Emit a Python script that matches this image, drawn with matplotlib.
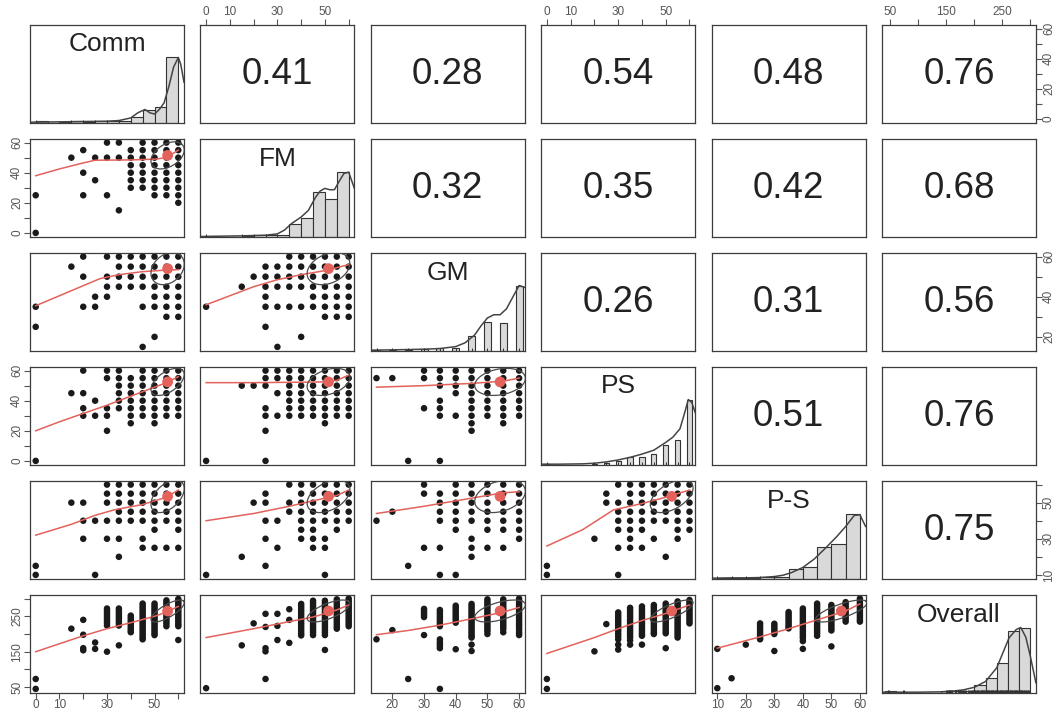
import numpy as np
import matplotlib
matplotlib.use("Agg")
import matplotlib.pyplot as plt

plt.rcParams["font.family"] = ["Liberation Sans", "DejaVu Sans"]

# ---------------------------------------------------------------- variables
variables = ["Comm", "FM", "GM", "PS", "P-S", "Overall"]
var_min = [0, 0, 15, 0, 10, 45]
var_max = [60, 60, 60, 60, 60, 300]
var_mean = [55.5, 51.5, 54.0, 52.5, 53.5, 265.0]
var_sd = [7.0, 9.0, 8.0, 9.0, 9.0, 31.0]

# upper-triangle correlations, one list per row
corr_comm = [0.41, 0.28, 0.54, 0.48, 0.76]
corr_fm = [0.32, 0.35, 0.42, 0.68]
corr_gm = [0.26, 0.31, 0.56]
corr_ps = [0.51, 0.76]
corr_ps2 = [0.75]

# axis ticks and the ticks that carry a label
ticks_by_var = [[0, 10, 20, 30, 40, 50, 60], [0, 10, 20, 30, 40, 50, 60],
                [20, 30, 40, 50, 60], [0, 10, 20, 30, 40, 50, 60],
                [10, 20, 30, 40, 50, 60], [50, 100, 150, 200, 250, 300]]
xlabels_by_var = [[0, 10, 30, 50], [0, 10, 30, 50], [20, 30, 40, 50, 60],
                  [0, 10, 30, 50], [10, 20, 30, 40, 50, 60], [50, 150, 250]]
ylabels_by_var = [[0, 20, 40, 60], [0, 20, 40, 60], [20, 40, 60],
                  [0, 20, 40, 60], [10, 30, 50], [50, 150, 250]]

# ---------------------------------------------------------------- histograms
comm_breaks = [0, 5, 10, 15, 20, 25, 30, 35, 40, 45, 50, 55, 60]
comm_heights = [0.02, 0.0, 0.01, 0.02, 0.01, 0.02, 0.02, 0.03, 0.09, 0.19, 0.24, 1.0]
fm_breaks = [0, 5, 10, 15, 20, 25, 30, 35, 40, 45, 50, 55, 60]
fm_heights = [0.01, 0.0, 0.0, 0.01, 0.02, 0.02, 0.03, 0.2, 0.28, 0.69, 0.58, 1.0]
gm_values = [15, 20, 25, 30, 35, 40, 45, 50, 55, 60]
gm_heights = [0.01, 0.01, 0.01, 0.02, 0.04, 0.04, 0.22, 0.44, 0.42, 1.0]
ps_values = [0, 20, 25, 30, 35, 40, 45, 50, 55, 60]
ps_heights = [0.01, 0.01, 0.02, 0.05, 0.11, 0.11, 0.16, 0.30, 0.38, 1.0]
ps2_breaks = [10, 15, 20, 25, 30, 35, 40, 45, 50, 55, 60]
ps2_heights = [0.01, 0.01, 0.01, 0.02, 0.02, 0.15, 0.18, 0.48, 0.53, 1.0]
overall_breaks = [40, 60, 80, 100, 120, 140, 160, 180, 200, 220, 240, 260, 280, 300]
overall_heights = [0.02, 0.01, 0.0, 0.0, 0.0, 0.02, 0.02, 0.03, 0.12, 0.23, 0.45, 0.95, 1.0]

# density curves (scaled to a peak of 1)
comm_dens_x = [-2.4, 10, 20, 30, 35, 40, 43, 46, 48, 50, 52, 54, 56, 58, 60, 61, 62.4]
comm_dens_y = [0.005, 0.01, 0.015, 0.02, 0.03, 0.07, 0.15, 0.2, 0.15, 0.13, 0.2, 0.3, 0.55, 0.85, 1.0, 0.9, 0.62]
fm_dens_x = [-2.4, 15, 25, 30, 33, 36, 40, 43, 46, 48, 50, 52, 54, 56, 58, 60, 62.4]
fm_dens_y = [0.0, 0.01, 0.02, 0.04, 0.1, 0.2, 0.3, 0.4, 0.6, 0.7, 0.74, 0.72, 0.72, 0.85, 0.97, 0.99, 0.74]
gm_dens_x = [13.2, 20, 25, 30, 35, 40, 43, 46, 48, 50, 52, 54, 56, 58, 60, 61.8]
gm_dens_y = [0.005, 0.01, 0.015, 0.02, 0.03, 0.06, 0.12, 0.24, 0.38, 0.5, 0.55, 0.55, 0.64, 0.82, 1.0, 0.97]
ps_dens_x = [-2.4, 5, 15, 20, 25, 30, 35, 40, 45, 50, 53, 56, 58, 59.5, 61, 62.4]
ps_dens_y = [0.005, 0.005, 0.01, 0.02, 0.04, 0.07, 0.11, 0.16, 0.22, 0.34, 0.42, 0.55, 0.8, 1.0, 0.95, 0.8]
ps2_dens_x = [8, 15, 20, 25, 30, 33, 36, 40, 44, 48, 52, 55, 58, 60, 62]
ps2_dens_y = [0.005, 0.01, 0.01, 0.015, 0.03, 0.05, 0.09, 0.17, 0.3, 0.47, 0.65, 0.8, 0.97, 0.98, 0.8]
overall_dens_x = [35, 100, 140, 160, 180, 200, 220, 240, 262, 275, 283, 292, 300, 310]
overall_dens_y = [0.005, 0.005, 0.01, 0.02, 0.04, 0.08, 0.17, 0.38, 0.84, 0.97, 1.0, 0.85, 0.56, 0.15]

# ---------------------------------------------------------------- scatter points
# each dict maps an x value to the y values observed at it
pts_fm_comm = {0: [25, 0], 15: [50], 20: [55, 40, 25], 25: [50, 35], 30: [60, 50, 25],
               35: [60, 50, 15], 40: [55, 50, 45, 40, 35, 30],
               45: [60, 55, 50, 45, 40, 35, 30], 50: [60, 55, 50, 45, 40, 35, 30, 25],
               55: [60, 55, 50, 45, 40, 35, 30, 25], 60: [60, 55, 50, 45, 40, 35, 30, 25, 20]}
pts_gm_comm = {0: [35, 25], 15: [55], 20: [60, 50, 35], 25: [40, 35], 30: [60, 50, 45, 40],
               35: [60, 55, 50, 45], 40: [60, 55, 50, 45], 45: [60, 55, 50, 45, 35, 15],
               50: [60, 55, 50, 45, 40, 35, 20], 55: [60, 55, 50, 45, 40, 35, 30],
               60: [60, 55, 50, 45, 40, 35, 30]}
pts_gm_fm = {0: [35], 15: [45], 20: [50], 25: [55, 50, 45, 40, 35, 25], 30: [55, 50, 45, 35, 15],
             35: [60, 55, 50, 45, 35], 40: [60, 55, 50, 45, 35, 20], 45: [60, 55, 50, 45, 40, 35],
             50: [60, 55, 50, 45, 40, 35, 30], 55: [60, 55, 50, 45, 40, 35, 30],
             60: [60, 55, 50, 45, 40, 35, 30]}
pts_ps_comm = {0: [0], 15: [45], 20: [60, 45, 35, 30], 25: [40, 30], 30: [60, 55, 35, 30, 20],
               35: [60, 55, 50, 45, 40, 35], 40: [55, 50, 45, 40, 35, 30, 25],
               45: [60, 55, 50, 45, 40, 35, 30], 50: [60, 55, 50, 45, 40, 35, 30, 25],
               55: [60, 55, 50, 45, 40, 35, 30], 60: [60, 55, 50, 45, 40, 35, 30]}
pts_ps_fm = {0: [0], 15: [50], 20: [50], 25: [60, 55, 50, 35, 30, 20, 0], 30: [60, 55, 45, 30],
             35: [60, 55, 50, 45, 40, 35, 30], 40: [60, 55, 50, 45, 40, 35, 30],
             45: [60, 55, 50, 45, 40, 35, 30], 50: [60, 55, 50, 45, 40, 35, 30, 25],
             55: [60, 55, 50, 45, 40, 35, 30], 60: [60, 55, 50, 45, 40, 35, 30]}
pts_ps_gm = {15: [55], 20: [55], 25: [0], 30: [60, 55, 35], 35: [60, 55, 50, 40, 35, 30, 0],
             40: [60, 55, 50, 45, 30], 45: [60, 55, 50, 45, 40, 35, 30, 25, 20],
             50: [60, 55, 50, 45, 40, 35, 30], 55: [60, 55, 50, 45, 40, 35, 30, 25],
             60: [60, 55, 50, 45, 40, 35, 30]}
pts_ps2_comm = {0: [15, 10], 15: [50], 20: [50, 40, 30], 25: [40, 10], 30: [60, 55, 50, 40, 30],
                35: [60, 55, 50, 45, 40, 30, 20], 40: [60, 55, 50, 45, 40],
                45: [60, 55, 50, 45, 40, 30, 25], 50: [60, 55, 50, 45, 40, 35, 25],
                55: [60, 55, 50, 45, 40, 25], 60: [60, 55, 50, 45, 40, 35, 25]}
pts_ps2_fm = {0: [10], 15: [20], 20: [50], 25: [55, 50, 40, 30, 15], 30: [40, 25], 35: [60, 50, 45],
              40: [60, 55, 50, 45, 40, 35, 30], 45: [60, 55, 50, 45, 40, 35, 30, 25],
              50: [60, 55, 50, 45, 40, 30, 25, 10], 55: [60, 55, 50, 45, 40, 35],
              60: [60, 55, 50, 45, 40]}
pts_ps2_gm = {15: [40], 20: [45], 25: [15], 30: [60, 55, 25], 35: [55, 50, 45, 40, 25, 10],
              40: [60, 55, 50, 45, 40, 35, 10], 45: [60, 55, 50, 45, 40, 30, 25, 20],
              50: [60, 55, 50, 45, 40, 35, 25], 55: [60, 55, 50, 45, 40, 35, 25],
              60: [60, 55, 50, 45, 40, 35, 30]}
pts_ps2_ps = {0: [15, 10], 20: [30], 25: [55, 50], 30: [60, 50, 45, 40, 35, 25, 10],
              35: [60, 55, 50, 45, 40, 35, 30, 25], 40: [60, 55, 50, 45, 40, 35, 25],
              45: [60, 55, 50, 45, 40, 30], 50: [60, 55, 50, 45, 40, 20],
              55: [60, 55, 50, 45, 40, 35, 30], 60: [60, 55, 50, 45, 40, 35]}
pts_overall_comm = {0: [73, 45], 15: [215], 20: [240, 198, 160, 154], 25: [176, 158],
                    30: [272, 266, 260, 254, 248, 242, 236, 230, 224, 150],
                    35: [272, 266, 260, 254, 248, 242, 236, 230, 224, 168],
                    40: [252, 246, 240, 234, 228, 222, 216, 210, 205],
                    45: [286, 280, 274, 268, 262, 256, 250, 244, 238, 232, 226, 220, 214, 208,
                         202, 196, 190, 185],
                    50: [286, 280, 274, 268, 262, 256, 250, 244, 238, 232, 226, 220, 214, 208,
                         202, 197],
                    55: [295, 289, 283, 277, 271, 265, 259, 253, 247, 241, 235, 229, 222],
                    60: [299, 293, 287, 281, 275, 269, 263, 257, 251, 245, 239, 233, 227, 222, 183]}
pts_overall_fm = {0: [47], 15: [168], 20: [230], 25: [257, 220, 160, 151, 73], 30: [257, 223, 183],
                  35: [270, 240, 175],
                  40: [285, 279, 273, 267, 261, 255, 249, 243, 237, 231, 225, 219, 213, 207,
                       201, 196],
                  45: [294, 288, 282, 276, 270, 264, 258, 252, 246, 240, 234, 228, 222, 216,
                       210, 204, 197],
                  50: [294, 288, 282, 276, 270, 264, 258, 252, 246, 240, 234, 228, 222, 216,
                       210, 204, 197, 155],
                  55: [298, 292, 286, 280, 274, 268, 262, 256, 250, 244, 238, 232, 226, 220, 215],
                  60: [300, 294, 288, 282, 276, 270, 264, 258, 252, 246, 240, 234, 228, 222]}
pts_overall_gm = {15: [185], 20: [211], 25: [73], 30: [271, 265, 260, 254, 248, 197],
                  35: [268, 262, 256, 250, 244, 238, 232, 226, 222, 185, 178, 172, 166, 160, 45],
                  40: [280, 274, 268, 262, 256, 250, 244, 238, 232, 157],
                  45: [285, 279, 273, 267, 261, 255, 249, 243, 237, 231, 225, 219, 213, 207,
                       201, 195, 190, 170, 152],
                  50: [298, 292, 286, 280, 274, 268, 262, 256, 250, 244, 238, 232, 226, 220,
                       214, 208, 200],
                  55: [298, 292, 286, 280, 274, 268, 262, 256, 250, 244, 238, 232, 226, 220,
                       214, 205],
                  60: [300, 294, 288, 282, 276, 270, 264, 258, 252, 246, 240, 234, 228, 222,
                       216, 210, 203, 197]}
pts_overall_ps = {0: [73, 45], 20: [151], 25: [228],
                  30: [261, 255, 249, 243, 237, 231, 225, 219, 213, 207, 200, 193, 185, 170, 156],
                  35: [274, 268, 262, 256, 250, 244, 238, 232, 226, 220, 214, 208, 202, 196,
                       190, 182, 170],
                  40: [278, 272, 266, 260, 254, 248, 242, 236, 230, 224, 218, 212, 206, 200,
                       195, 170],
                  45: [282, 276, 270, 264, 258, 252, 246, 240, 234, 228, 222, 216, 210, 204, 200],
                  50: [286, 280, 274, 268, 262, 256, 250, 244, 238, 232, 226, 220, 214, 208,
                       202, 160],
                  55: [292, 286, 280, 274, 268, 262, 256, 250, 244, 238, 232, 226, 220, 214,
                       208, 202, 196, 190],
                  60: [296, 290, 284, 278, 272, 266, 260, 254, 248, 242, 236, 230]}
pts_overall_ps2 = {10: [158, 47], 15: [75], 20: [170],
                   25: [230, 224, 218, 212, 206, 200, 194, 188, 185],
                   30: [229, 223, 217, 211, 205, 200, 152],
                   35: [262, 256, 250, 244, 238, 232, 226, 220, 216],
                   40: [272, 266, 260, 254, 248, 242, 236, 230, 224, 218, 212, 206, 200, 194,
                        188, 180, 158],
                   45: [286, 280, 274, 268, 262, 256, 250, 244, 238, 232, 226, 220, 214, 208,
                        202, 195],
                   50: [282, 276, 270, 264, 258, 252, 246, 240, 234, 228, 222, 216, 210, 165],
                   55: [290, 284, 278, 272, 266, 260, 254, 248, 242, 235],
                   60: [300, 294, 288, 282, 276, 270, 264, 258, 252, 246, 240, 235]}

# loess-type smooths, as (x, y) knots
smooth_fm_comm = [(0, 38), (10, 42.5), (20, 46.5), (25, 48.3), (40, 48.5), (50, 49), (55, 50), (60, 55)]
smooth_gm_comm = [(0, 35.5), (10, 40.5), (20, 45.5), (27, 49), (35, 51), (45, 52.5), (55, 53.3), (60, 53.5)]
smooth_gm_fm = [(0, 36), (10, 40.5), (20, 45), (30, 48.5), (40, 51), (50, 53), (55, 54.5), (60, 56)]
smooth_ps_comm = [(0, 20), (10, 26), (20, 31.5), (30, 37), (40, 43), (50, 49), (55, 52), (60, 56)]
smooth_ps_fm = [(0, 52), (20, 52), (40, 52.3), (50, 52.5), (55, 53.5), (60, 57)]
smooth_ps_gm = [(15, 49), (30, 50), (45, 51.5), (55, 53), (60, 55)]
smooth_ps2_comm = [(0, 32), (15, 38), (25, 43), (33, 46), (45, 49), (55, 53), (60, 57)]
smooth_ps2_fm = [(0, 40), (20, 44), (35, 48), (45, 51), (55, 54), (60, 57)]
smooth_ps2_gm = [(15, 44), (30, 48), (45, 52.5), (55, 55.5), (60, 56)]
smooth_ps2_ps = [(0, 26), (15, 35), (28, 46), (40, 49.5), (50, 53), (60, 57)]
smooth_overall_comm = [(0, 150), (20, 195), (30, 215), (40, 232), (50, 250), (55, 262), (60, 278)]
smooth_overall_fm = [(0, 190), (20, 215), (35, 235), (45, 248), (55, 268), (60, 282)]
smooth_overall_gm = [(15, 198), (25, 210), (35, 225), (45, 243), (55, 262), (60, 275)]
smooth_overall_ps = [(0, 145), (20, 190), (30, 215), (40, 238), (50, 258), (60, 282)]
smooth_overall_ps2 = [(10, 160), (25, 192), (35, 215), (45, 240), (55, 265), (60, 285)]

# ---------------------------------------------------------------- assembly
corr_rows = [corr_comm, corr_fm, corr_gm, corr_ps, corr_ps2]
lower = {
    (1, 0): (pts_fm_comm, smooth_fm_comm),
    (2, 0): (pts_gm_comm, smooth_gm_comm), (2, 1): (pts_gm_fm, smooth_gm_fm),
    (3, 0): (pts_ps_comm, smooth_ps_comm), (3, 1): (pts_ps_fm, smooth_ps_fm),
    (3, 2): (pts_ps_gm, smooth_ps_gm),
    (4, 0): (pts_ps2_comm, smooth_ps2_comm), (4, 1): (pts_ps2_fm, smooth_ps2_fm),
    (4, 2): (pts_ps2_gm, smooth_ps2_gm), (4, 3): (pts_ps2_ps, smooth_ps2_ps),
    (5, 0): (pts_overall_comm, smooth_overall_comm), (5, 1): (pts_overall_fm, smooth_overall_fm),
    (5, 2): (pts_overall_gm, smooth_overall_gm), (5, 3): (pts_overall_ps, smooth_overall_ps),
    (5, 4): (pts_overall_ps2, smooth_overall_ps2),
}
hists = [
    ("breaks", comm_breaks, comm_heights, comm_dens_x, comm_dens_y),
    ("breaks", fm_breaks, fm_heights, fm_dens_x, fm_dens_y),
    ("values", gm_values, gm_heights, gm_dens_x, gm_dens_y),
    ("values", ps_values, ps_heights, ps_dens_x, ps_dens_y),
    ("breaks", ps2_breaks, ps2_heights, ps2_dens_x, ps2_dens_y),
    ("breaks", overall_breaks, overall_heights, overall_dens_x, overall_dens_y),
]


def corr_of(a, b):
    a, b = min(a, b), max(a, b)
    return corr_rows[a][b - a - 1]


def limits(k):
    r = var_max[k] - var_min[k]
    return var_min[k] - 0.04 * r, var_max[k] + 0.04 * r


def rug_values(k):
    vals = set()
    for (i, j), (pts, _) in lower.items():
        if j == k:
            vals.update(pts.keys())
        if i == k:
            for ys in pts.values():
                vals.update(ys)
    return sorted(vals)


RED = "#E3625B"
FRAME = "#3c3c3c"
DOT = "#1a1a1a"
TICK_COL = "#555555"

W, H = 1060, 713
fig = plt.figure(figsize=(W / 100, H / 100), dpi=100)
fig.patch.set_facecolor("white")

pw, ph = 154, 97.5
for i in range(6):
    for j in range(6):
        left = 30 + 170.4 * j
        top = 25 + 114 * i
        ax = fig.add_axes([left / W, 1 - (top + ph) / H, pw / W, ph / H])
        for sp in ax.spines.values():
            sp.set_color(FRAME)
            sp.set_linewidth(0.9)
        ax.set_xticks([])
        ax.set_yticks([])

        if i == j:
            kind, b, hts, dx, dy = hists[i]
            ax.set_xlim(*limits(i))
            ax.set_ylim(0, 1.5)
            if kind == "breaks":
                lefts = b[:-1]
                widths = [b[n + 1] - b[n] for n in range(len(hts))]
                ax.bar(lefts, hts, width=widths, align="edge", color="#D9D9D9",
                       edgecolor="#333333", linewidth=0.8, zorder=1)
            else:
                half = min(np.diff(b)) * (len(b) - 1) / 41
                ax.bar([v - half for v in b], hts, width=2 * half, align="edge",
                       color="#D9D9D9", edgecolor="#333333", linewidth=0.8, zorder=1)
            ax.plot(dx, dy, color="#444444", lw=1.1, zorder=2)
            ax.vlines(rug_values(i), 0, 0.045, color="#333333", lw=0.7, zorder=3)
            ax.text(0.5, 0.8, variables[i], transform=ax.transAxes, ha="center",
                    va="center", fontsize=19, color="#222222")
        else:
            ax.set_xlim(*limits(j))
            ax.set_ylim(*limits(i))
            if i < j:
                ax.text(0.5, 0.49, f"{corr_of(i, j):.2f}", transform=ax.transAxes,
                        ha="center", va="center", fontsize=26.5, color="#222222")
            else:
                pts, smooth = lower[(i, j)]
                xs = [x for x, ys in pts.items() for _ in ys]
                ys = [y for ys_ in pts.values() for y in ys_]
                ax.scatter(xs, ys, s=22, c=DOT, edgecolors="none", zorder=2)
                sx, sy = zip(*smooth)
                ax.plot(sx, sy, color=RED, lw=1.1, zorder=3)
                r = corr_of(i, j)
                ang = np.linspace(0, 2 * np.pi, 52)
                t = np.sign(r) / np.sqrt(2)
                shape = np.diag([np.sqrt(1 + r), np.sqrt(1 - r)]) @ np.array([[t, t], [-t, t]])
                e = np.column_stack([np.cos(ang), np.sin(ang)]) @ shape
                ax.scatter([var_mean[j]], [var_mean[i]], s=60, c=RED, edgecolors="none", zorder=4)
                ax.plot(e[:, 0] * var_sd[j] + var_mean[j], e[:, 1] * var_sd[i] + var_mean[i],
                        color="#4a4a4a", lw=0.9, zorder=5)

        # outer axes, alternating sides
        if i == 5 and j % 2 == 0:
            ax.set_xticks(ticks_by_var[j])
            ax.set_xticklabels([str(t) if t in xlabels_by_var[j] else "" for t in ticks_by_var[j]])
            ax.tick_params(axis="x", bottom=True, labelbottom=True, direction="out",
                           length=4, width=0.8, pad=1, labelsize=8.5, colors=TICK_COL)
        if i == 0 and j % 2 == 1:
            ax.set_xticks(ticks_by_var[j])
            ax.set_xticklabels([str(t) if t in xlabels_by_var[j] else "" for t in ticks_by_var[j]])
            ax.tick_params(axis="x", top=True, labeltop=True, bottom=False, labelbottom=False,
                           direction="out", length=4, width=0.8, pad=1, labelsize=8.5,
                           colors=TICK_COL)
        if j == 5 and i % 2 == 0:
            ax.set_yticks(ticks_by_var[i])
            ax.set_yticklabels([str(t) if t in ylabels_by_var[i] else "" for t in ticks_by_var[i]],
                               rotation=90, va="center")
            ax.tick_params(axis="y", right=True, labelright=True, left=False, labelleft=False,
                           direction="out", length=4, width=0.8, pad=1, labelsize=8.5,
                           colors=TICK_COL)
        if j == 0 and i % 2 == 1:
            ax.set_yticks(ticks_by_var[i])
            ax.set_yticklabels([str(t) if t in ylabels_by_var[i] else "" for t in ticks_by_var[i]],
                               rotation=90, va="center")
            ax.tick_params(axis="y", left=True, labelleft=True, direction="out",
                           length=4, width=0.8, pad=1, labelsize=8.5, colors=TICK_COL)

fig.savefig("out.png", dpi=100, facecolor="white")
